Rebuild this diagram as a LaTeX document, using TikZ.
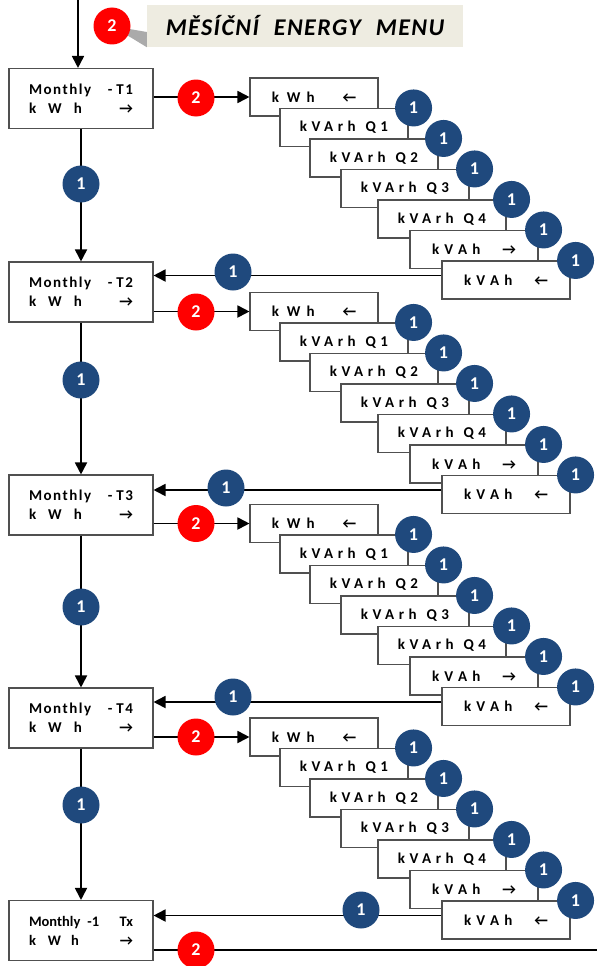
\documentclass[tikz,border=0pt]{standalone}
\usepackage{fontspec}
\setmainfont{Carlito}
\usetikzlibrary{arrows.meta,backgrounds}
\definecolor{navy}{RGB}{31,73,125}
\definecolor{hdrfill}{RGB}{238,236,225}
\definecolor{edge}{RGB}{80,80,80}
\definecolor{wedge}{RGB}{170,170,170}
\newcommand{\rarr}{{\addfontfeature{LetterSpace=0}→}}
\newcommand{\larr}{{\addfontfeature{LetterSpace=0}←}}
\tikzset{
  mainbox/.style={draw=edge, line width=1.1pt, fill=white,
    minimum width=144pt, minimum height=60pt, text width=104pt,
    align=left, inner sep=0pt,
    font=\bfseries\fontsize{15}{19}\selectfont\addfontfeature{LetterSpace=10}},
  txbox/.style={mainbox, font=\bfseries\fontsize{14.5}{19}\selectfont},
  casbox/.style={draw=edge, line width=1.1pt, fill=white,
    minimum width=128pt, minimum height=38pt, inner sep=0pt,
    font=\bfseries\fontsize{15}{15}\selectfont\addfontfeature{LetterSpace=30}},
  hdrbox/.style={fill=hdrfill, minimum width=316pt, minimum height=42pt, inner sep=0pt,
    font=\bfseries\itshape\fontsize{24}{24}\selectfont\addfontfeature{LetterSpace=6}},
  badge/.style={circle, inner sep=0pt, minimum size=37pt, text=white,
    font=\bfseries\fontsize{18}{18}\selectfont},
  one/.style={badge, fill=navy},
  two/.style={badge, fill=red},
  conn/.style={draw=black, line width=1.8pt, -{Triangle[length=12pt,width=12pt]}},
  plain/.style={draw=black, line width=1.8pt},
}
\begin{document}
\begin{tikzpicture}[x=1pt,y=-1pt]
\useasboundingbox (0,0) rectangle (597,966);

% title callout
\node[hdrbox] (hdr) at (305,26) {MĚSÍČNÍ\hspace{8pt} ENERGY\hspace{8pt} MENU};
\node[two] (hb) at (112,26) {2};
\begin{scope}[on background layer]
  \fill[white] (0,0) rectangle (597,966);
  \fill[wedge] (hb.center) -- ([yshift=-6pt]hdr.west) -- (hdr.south west) -- cycle;
\end{scope}

% tariff boxes
\node[mainbox] (T1) at (81,98.5) {Monthly\hfill-\hspace{4pt}T1\\k\hspace{12pt}W\hspace{12pt}h\hfill\rarr};
\node[mainbox] (T2) at (81,292) {Monthly\hfill-\hspace{4pt}T2\\k\hspace{12pt}W\hspace{12pt}h\hfill\rarr};
\node[mainbox] (T3) at (81,505) {Monthly\hfill-\hspace{4pt}T3\\k\hspace{12pt}W\hspace{12pt}h\hfill\rarr};
\node[mainbox] (T4) at (81,718) {Monthly\hfill-\hspace{4pt}T4\\k\hspace{12pt}W\hspace{12pt}h\hfill\rarr};
\node[txbox] (Tx) at (81,930.5) {Monthly\hspace{7pt}-1\hfill Tx\\k\hspace{12pt}W\hspace{10pt}h\hfill\rarr};

% entry arrow
\coordinate (entry) at (78,0);
\draw[conn] (entry) -- (entry |- T1.north);

% cascades of energy registers
\foreach \b/\yb/\tp/\tn/\rx/\ry in {1/97/T1/T2/233/272, 2/311.5/T2/T3/226/488,
                                     3/523.5/T3/T4/233/697, 4/737/T4/Tx/361/910} {
  \foreach \i/\xl/\txt in {
      1/250/{k\hspace{8pt}W\hspace{6pt}h\hspace{28pt}\larr},
      2/280/{kVArh\hspace{10pt}Q1},
      3/310/{kVArh\hspace{10pt}Q2},
      4/341/{kVArh\hspace{10pt}Q3},
      5/378/{kVArh\hspace{10pt}Q4},
      6/410/{k\hspace{5pt}V\hspace{5pt}A\hspace{5pt}h\hspace{22pt}\rarr},
      7/442/{k\hspace{5pt}V\hspace{5pt}A\hspace{5pt}h\hspace{22pt}\larr}} {
    \node[casbox] (c\b-\i) at (\xl+64, \yb+30.5*\i-30.5) {\txt};
    \ifnum\i>1
      \node[one] (k\b-\i) at ([xshift=5pt]c\b-\i.north east) {1};
    \fi
  }
  \draw[conn] (c\b-1.west -| \tp.east) -- (c\b-1.west);
  \draw[conn] ([yshift=4.5pt]c\b-7.west) -- ([yshift=4.5pt]c\b-7.west -| \tn.east);
  \node[one] (r\b) at (\rx,\ry) {1};
}

% main column
\draw[conn] (T1.south) -- (T2.north);
\draw[conn] (T2.south) -- (T3.north);
\draw[conn] (T3.south) -- (T4.north);
\draw[conn] (T4.south) -- (Tx.north);
\node[one] (v1) at (81,184) {1};
\node[one] (v2) at (81,380) {1};
\node[one] (v3) at (81,607) {1};
\node[one] (v4) at (81,805) {1};

% exit line from the last tariff
\coordinate (txend) at (597,950);
\draw[plain] (Tx.east |- txend) -- (txend);

% second-button markers
\node[two] (s1) at (196,98) {2};
\node[two] (s2) at (196,312) {2};
\node[two] (s3) at (196,523.5) {2};
\node[two] (s4) at (196,737) {2};
\node[two] (s5) at (196,950) {2};
\end{tikzpicture}
\end{document}
